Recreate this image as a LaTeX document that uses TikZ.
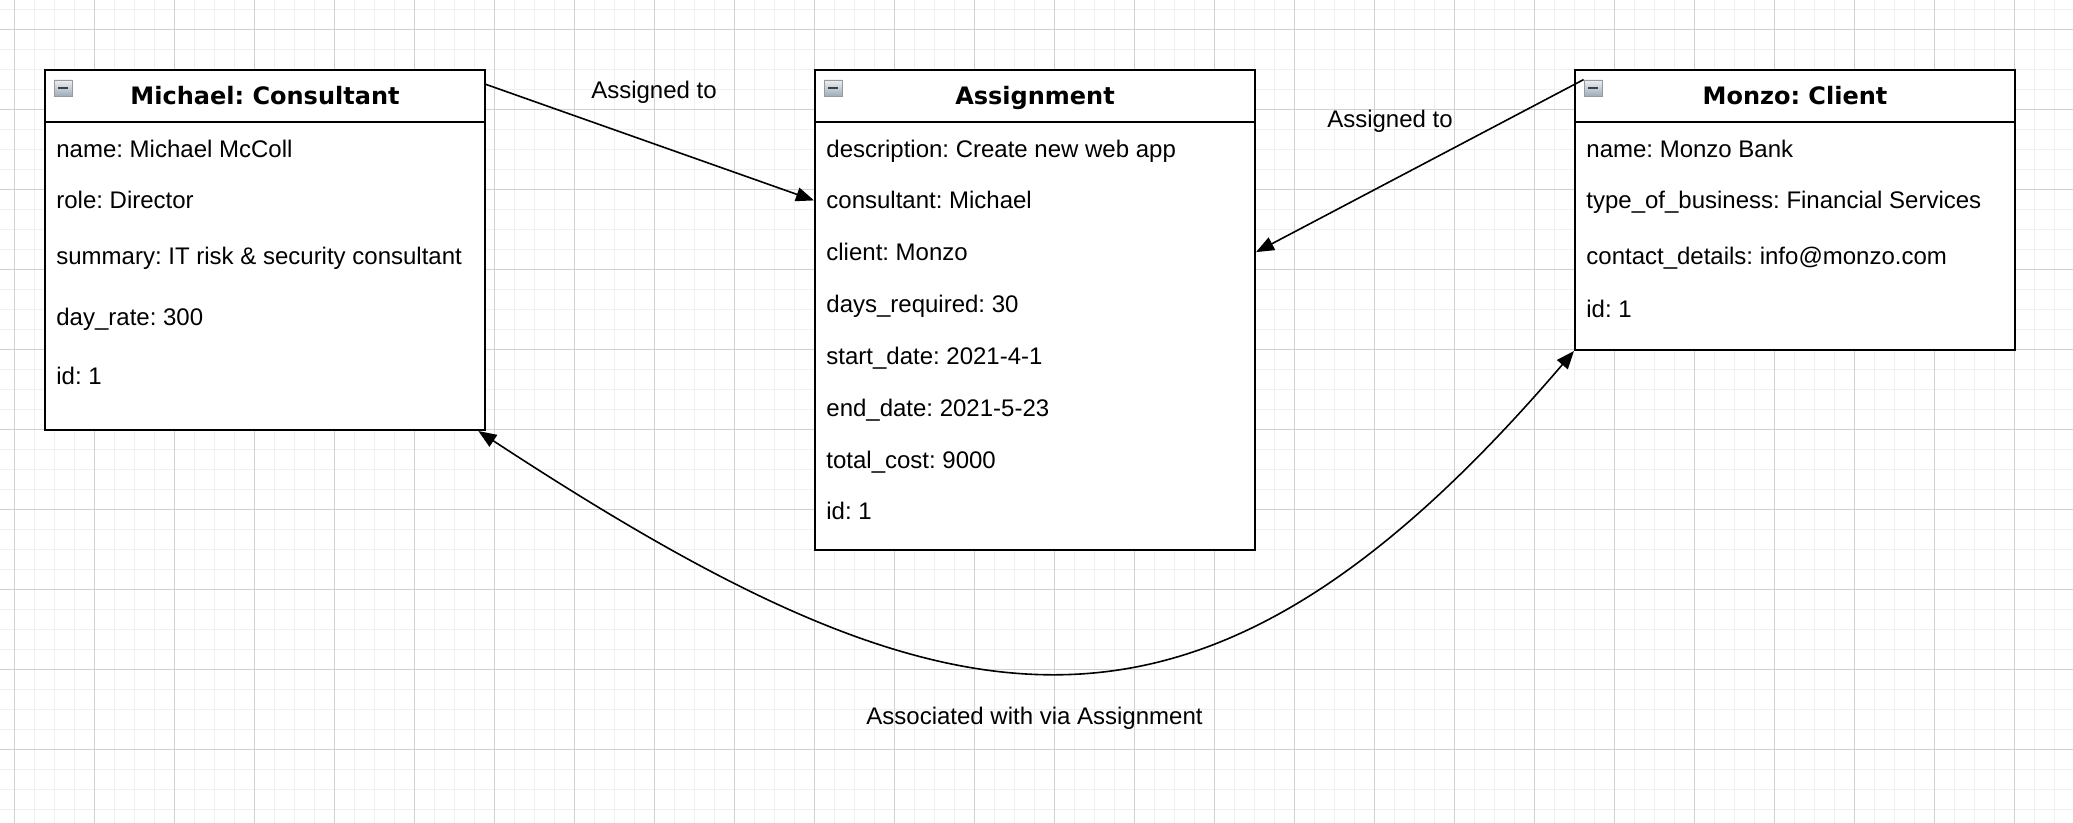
\documentclass[tikz,border=0pt]{standalone}
\usepackage{fontspec}
\setmainfont{Liberation Sans}
\newfontfamily\headfont{DejaVu Sans}
\usetikzlibrary{arrows.meta}
\frenchspacing
\colorlet{gridminor}{black!6}
\colorlet{gridmajor}{black!18}
\definecolor{icontop}{RGB}{236,239,243}
\definecolor{iconbot}{RGB}{160,172,188}
\tikzset{
    head/.style={draw, fill=white, line width=1pt, minimum width=220pt, minimum height=26pt, inner sep=0pt, text height=10pt, text depth=1pt, font=\headfont\fontsize{12}{14}\selectfont\bfseries},
    body/.style={draw, fill=white, line width=1pt, minimum width=220pt, inner sep=0pt},
    field/.style={anchor=base west, inner sep=0pt, font=\fontsize{12}{14}\selectfont},
    tag/.style={anchor=base, inner sep=0pt, font=\fontsize{12}{14}\selectfont},
    icon/.style={draw=black!40, top color=icontop, bottom color=iconbot, minimum width=9pt, minimum height=8pt, inner sep=0pt, line width=0.4pt},
    link/.style={-{Triangle[length=9pt,width=7pt]}, line width=0.8pt},
    twoway/.style={{Triangle[length=9pt,width=7pt]}-{Triangle[length=9pt,width=7pt]}, line width=0.8pt},
    minor/.style={gridminor, line width=0.5pt},
    major/.style={gridmajor, line width=0.5pt}
}
\newcommand{\minus}{\textcolor{black!75}{\rule{5pt}{1.3pt}}}

\begin{document}
\begin{tikzpicture}[x=0.5pt, y=-0.5pt]
\useasboundingbox (0,0) rectangle (2073,823);
\fill[white] (0,0) rectangle (2073,823);
\foreach \k in {0,...,104} \draw[minor] ({20*\k-5.7},0) -- ({20*\k-5.7},823);
\foreach \k in {0,...,41} \draw[minor] (0,{20*\k+9.3}) -- (2073,{20*\k+9.3});
\foreach \k in {0,...,25} \draw[major] ({80*\k+14.3},0) -- ({80*\k+14.3},823);
\foreach \k in {0,...,9} \draw[major] (0,{80*\k+29.3}) -- (2073,{80*\k+29.3});

\node[body, minimum height=154pt] at (265,276) (cbody) {};
\node[head] at (265,96) (chead) {Michael: Consultant};
\node[icon] at (63,88) (cicon) {\minus};
\node[field] at (56,157.5) (cf1) {name: Michael McColl};
\node[field] at (56,209) (cf2) {role: Director};
\node[field] at (56,265) (cf3) {summary: IT risk \& security consultant};
\node[field] at (56,325.5) (cf4) {day\_rate: 300};
\node[field] at (56,385) (cf5) {id: 1};

\node[body, minimum height=214pt] at (1035,336) (abody) {};
\node[head] at (1035,96) (ahead) {Assignment};
\node[icon] at (833,88) (aicon) {\minus};
\node[field] at (826,157.5) (af1) {description: Create new web app};
\node[field] at (826,209) (af2) {consultant: Michael};
\node[field] at (826,260.7) (af3) {client: Monzo};
\node[field] at (826,312.4) (af4) {days\_required: 30};
\node[field] at (826,364.6) (af5) {start\_date: 2021-4-1};
\node[field] at (826,416.6) (af6) {end\_date: 2021-5-23};
\node[field] at (826,468.2) (af7) {total\_cost: 9000};
\node[field] at (826,520) (af8) {id: 1};

\node[body, minimum height=114pt] at (1795,236) (kbody) {};
\node[head] at (1795,96) (khead) {Monzo: Client};
\node[icon] at (1593,88) (kicon) {\minus};
\node[field] at (1586,157.5) (kf1) {name: Monzo Bank};
\node[field] at (1586,208.4) (kf2) {type\_of\_business: Financial Services};
\node[field] at (1586,264.7) (kf3) {contact\_details: info@monzo.com};
\node[field] at (1586,317.4) (kf4) {id: 1};

\node[tag] at (654,99) (l1) {Assigned to};
\node[tag] at (1390,127.4) (l2) {Assigned to};
\node[tag] at (1034.5,724.7) (l3) {Associated with via Assignment};

\draw[link] (chead.3.4) -- (abody.west |- af2.west);
\draw[link] (kicon.north west) -- (abody.east |- af3.west);
\draw[twoway] (kbody.south west) .. controls (1196,793) and (947,738) .. (cbody.-36);
\end{tikzpicture}
\end{document}
